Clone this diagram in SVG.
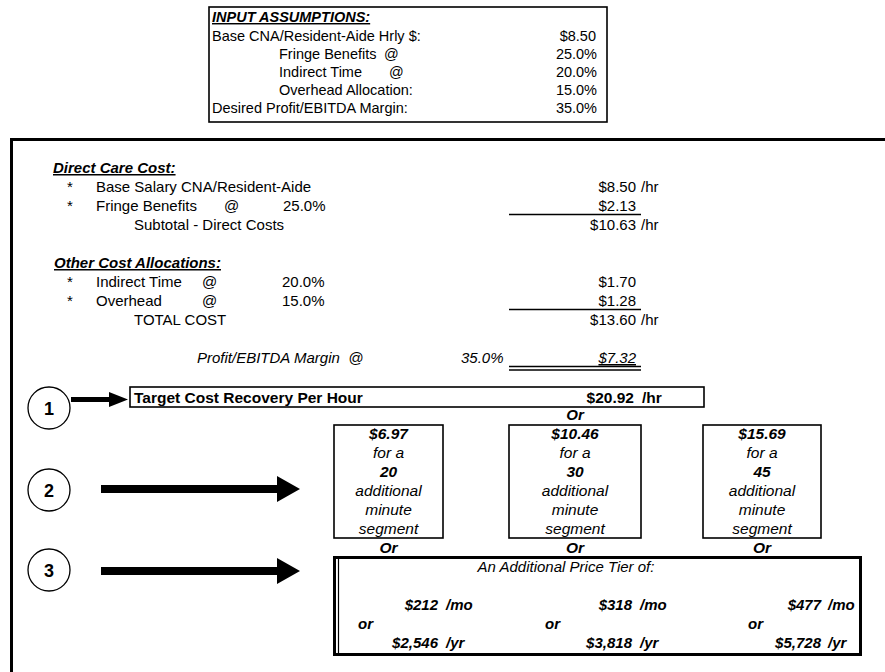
<svg xmlns="http://www.w3.org/2000/svg" width="885" height="672" viewBox="0 0 885 672">
<style>
text{font-family:"Liberation Sans",Arial,sans-serif;font-size:15px;fill:#000}
.in text{font-size:14.5px}
.opt text{font-size:15.5px}
.t{font-size:15.5px}
.b{font-weight:bold}
.i{font-style:italic}
.u{text-decoration:underline}
.e{text-anchor:end}
.m{text-anchor:middle}
.box{fill:none;stroke:#000;stroke-width:1.6}
.thick{fill:none;stroke:#000;stroke-width:3}
.ln{stroke:#000;stroke-width:1.6}
.circ{fill:#fff;stroke:#000;stroke-width:1.3}
.num{font-size:18px;font-weight:bold;text-anchor:middle}
</style>
<rect width="885" height="672" fill="#fff"/>

<g id="input-assumptions" class="in">
<rect class="box" x="209" y="7" width="398" height="115"/>
<text class="b i u" x="212" y="22">INPUT ASSUMPTIONS:</text>
<text x="212" y="41">Base CNA/Resident-Aide Hrly $:</text><text class="e" x="596" y="41">$8.50</text>
<text x="279" y="59">Fringe Benefits</text><text x="384" y="59">@</text><text class="e" x="597" y="59">25.0%</text>
<text x="279" y="77">Indirect Time</text><text x="389" y="77">@</text><text class="e" x="597" y="77">20.0%</text>
<text x="279" y="95">Overhead Allocation:</text><text class="e" x="597" y="95">15.0%</text>
<text x="212" y="113">Desired Profit/EBITDA Margin:</text><text class="e" x="597" y="113">35.0%</text>
</g>

<g id="worksheet-frame">
<path class="thick" d="M886 139.5H11.5V672"/>
</g>

<g id="direct-care-cost">
<text class="b i u" x="53" y="173">Direct Care Cost:</text>
<text x="67" y="192">*</text><text x="96" y="192">Base Salary CNA/Resident-Aide</text><text class="e" x="636" y="192">$8.50</text><text x="641" y="192">/hr</text>
<text x="67" y="211">*</text><text x="96" y="211">Fringe Benefits</text><text x="224" y="211">@</text><text x="283" y="211">25.0%</text><text class="e" x="636" y="211">$2.13</text>
<line class="ln" x1="509" y1="214.5" x2="641" y2="214.5"/>
<text x="134" y="230">Subtotal - Direct Costs</text><text class="e" x="636" y="230">$10.63</text><text x="641" y="230">/hr</text>
</g>

<g id="other-cost-allocations">
<text class="b i u" x="54" y="268">Other Cost Allocations:</text>
<text x="67" y="287">*</text><text x="96" y="287">Indirect Time</text><text x="202" y="287">@</text><text x="282" y="287">20.0%</text><text class="e" x="636" y="287">$1.70</text>
<text x="67" y="306">*</text><text x="96" y="306">Overhead</text><text x="202" y="306">@</text><text x="282" y="306">15.0%</text><text class="e" x="636" y="306">$1.28</text>
<line class="ln" x1="509" y1="309.5" x2="641" y2="309.5"/>
<text x="134" y="325">TOTAL COST</text><text class="e" x="636" y="325">$13.60</text><text x="641" y="325">/hr</text>
<text class="i" x="197" y="363" xml:space="preserve">Profit/EBITDA Margin  @</text><text class="i" x="461" y="363">35.0%</text><text class="i u e" x="636" y="363">$7.32</text>
<line class="ln" x1="509" y1="366.5" x2="641" y2="366.5"/>
<line class="ln" x1="509" y1="370" x2="641" y2="370"/>
</g>

<g id="target-cost-recovery">
<rect class="box" x="130" y="387" width="574" height="20"/>
<text class="b t" x="134" y="402.5">Target Cost Recovery Per Hour</text><text class="b e t" x="634" y="402.5">$20.92</text><text class="b t" x="642" y="402.5">/hr</text>
<text class="b i m" x="575" y="420">Or</text>
</g>

<g id="option-20" class="opt">
<rect class="box" x="334" y="425" width="109" height="113"/>
<text class="b i m" x="388.5" y="439">$6.97</text>
<text class="i m" x="388.5" y="458">for a</text>
<text class="b i m" x="388.5" y="477">20</text>
<text class="i m" x="388.5" y="496">additional</text>
<text class="i m" x="388.5" y="515">minute</text>
<text class="i m" x="388.5" y="534">segment</text>
<text class="b i m" x="388.5" y="553">Or</text>
</g>
<g id="option-30" class="opt">
<rect class="box" x="509" y="425" width="132" height="113"/>
<text class="b i m" x="575" y="439">$10.46</text>
<text class="i m" x="575" y="458">for a</text>
<text class="b i m" x="575" y="477">30</text>
<text class="i m" x="575" y="496">additional</text>
<text class="i m" x="575" y="515">minute</text>
<text class="i m" x="575" y="534">segment</text>
<text class="b i m" x="575" y="553">Or</text>
</g>
<g id="option-45" class="opt">
<rect class="box" x="703" y="425" width="118" height="113"/>
<text class="b i m" x="762" y="439">$15.69</text>
<text class="i m" x="762" y="458">for a</text>
<text class="b i m" x="762" y="477">45</text>
<text class="i m" x="762" y="496">additional</text>
<text class="i m" x="762" y="515">minute</text>
<text class="i m" x="762" y="534">segment</text>
<text class="b i m" x="762" y="553">Or</text>
</g>

<g id="price-tier">
<rect class="thick" x="334.5" y="557.5" width="526" height="97"/>
<line x1="338.5" y1="559" x2="338.5" y2="653" stroke="#000" stroke-width="1.2"/>
<text class="i m" x="566" y="572">An Additional Price Tier of:</text>
<text class="b i e" x="438" y="610">$212</text><text class="b i" x="446" y="610">/mo</text>
<text class="b i" x="358" y="629">or</text>
<text class="b i e" x="438" y="648">$2,546</text><text class="b i" x="446" y="648">/yr</text>
<text class="b i e" x="632" y="610">$318</text><text class="b i" x="640" y="610">/mo</text>
<text class="b i" x="545" y="629">or</text>
<text class="b i e" x="632" y="648">$3,818</text><text class="b i" x="640" y="648">/yr</text>
<text class="b i e" x="821" y="610">$477</text><text class="b i" x="828" y="610">/mo</text>
<text class="b i" x="748" y="629">or</text>
<text class="b i e" x="821" y="648">$5,728</text><text class="b i" x="828" y="648">/yr</text>
</g>

<g id="step-1"><circle class="circ" cx="49" cy="408" r="21"/><text class="num" x="49" y="414.5">1</text></g>
<g id="step-2"><circle class="circ" cx="49" cy="490" r="21"/><text class="num" x="49" y="496.5">2</text></g>
<g id="step-3"><circle class="circ" cx="49" cy="570" r="21"/><text class="num" x="49" y="576.5">3</text></g>

<g id="connectors">
<polygon points="71,397 109,397 109,392 128,399.5 109,407 109,402 71,402"/>
<polygon points="101,485 277,485 277,476 300,489 277,502 277,493 101,493"/>
<polygon points="101,567 277,567 277,558 300,571 277,584 277,575 101,575"/>
</g>
</svg>
